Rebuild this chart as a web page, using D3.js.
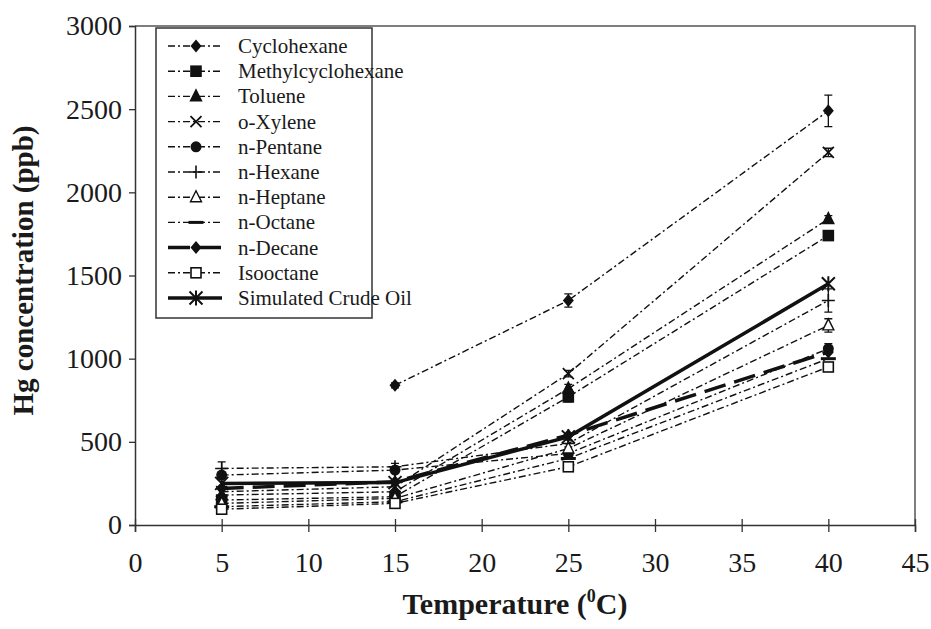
<!DOCTYPE html>
<meta charset="utf-8">
<script src="https://d3js.org/d3.v7.min.js"></script>
<style>
  body { margin: 0; background: #fff; }
  text { font-family: "Liberation Serif", "Times New Roman", serif; fill: #1a1a1a; }
</style>
<div id="chart"></div>
<script>
// temperatures (deg C) measured
var temps = [5, 15, 25, 40];

var seriesNames = ["Cyclohexane", "Methylcyclohexane", "Toluene", "o-Xylene", "n-Pentane",
  "n-Hexane", "n-Heptane", "n-Octane", "n-Decane", "Isooctane", "Simulated Crude Oil"];

// Hg concentration (ppb)
var cyclohexane  = [null, 840, 1350, 2490];
var methylcyclo  = [150, 170, 770, 1740];
var toluene      = [180, 200, 820, 1840];
var oXylene      = [200, 230, 910, 2240];
var nPentane     = [300, 330, 430, 1060];
var nHexane      = [340, 350, 490, 1350];
var nHeptane     = [130, 160, 460, 1200];
var nOctane      = [110, 140, 400, 1000];
var nDecane      = [220, 260, 540, 1040];
var isooctane    = [95, 130, 350, 950];
var crudeOil     = [250, 255, 530, 1450];

// error bars (+/-)
var cyclohexaneErr = [0, 15, 40, 95];
var methylcycloErr = [0, 0, 30, 25];
var tolueneErr     = [0, 0, 25, 20];
var oXyleneErr     = [0, 0, 20, 25];
var nPentaneErr    = [0, 10, 0, 30];
var nHexaneErr     = [40, 20, 20, 70];
var nHeptaneErr    = [0, 0, 0, 40];
var nOctaneErr     = [0, 0, 0, 0];
var nDecaneErr     = [0, 0, 0, 0];
var isooctaneErr   = [20, 0, 0, 20];
var crudeOilErr    = [0, 0, 0, 0];

var xTicks = [0, 5, 10, 15, 20, 25, 30, 35, 40, 45];
var yTicks = [0, 500, 1000, 1500, 2000, 2500, 3000];

var allValues = [cyclohexane, methylcyclo, toluene, oXylene, nPentane, nHexane,
  nHeptane, nOctane, nDecane, isooctane, crudeOil];
var allErrors = [cyclohexaneErr, methylcycloErr, tolueneErr, oXyleneErr, nPentaneErr, nHexaneErr,
  nHeptaneErr, nOctaneErr, nDecaneErr, isooctaneErr, crudeOilErr];

// marker / line style per series
var styles = [
  {marker: "diamond", dash: "7,3,2,3", w: 1.4},
  {marker: "square", dash: "7,3,2,3", w: 1.4},
  {marker: "triangle", dash: "7,3,2,3", w: 1.4},
  {marker: "x", dash: "7,3,2,3", w: 1.4},
  {marker: "circle", dash: "7,3,2,3", w: 1.4},
  {marker: "plus", dash: "7,3,2,3", w: 1.4},
  {marker: "otriangle", dash: "7,3,2,3", w: 1.4},
  {marker: "dash", dash: "7,3,2,3", w: 1.4},
  {marker: "diamond", dash: "22,9", w: 3.5},
  {marker: "osquare", dash: "7,3,2,3", w: 1.4},
  {marker: "asterisk", dash: null, w: 3.5}
];

var serif = '"Liberation Serif", "Times New Roman", serif';

var margin = {top: 26, right: 16, bottom: 104, left: 135},
    width = 931 - margin.left - margin.right,
    height = 629 - margin.top - margin.bottom;

var svg = d3.select("#chart")
  .append("svg")
    .attr("width", 931)
    .attr("height", 629)
  .append("g")
    .attr("transform", "translate(" + margin.left + "," + margin.top + ")");

var x = d3.scaleLinear().domain([0, 45]).range([0, width]);
var y = d3.scaleLinear().domain([0, 3000]).range([height, 0]);

// plot frame (top + right)
svg.append("path")
  .attr("d", "M0,0H" + width + "V" + height)
  .attr("fill", "none")
  .attr("stroke", "#555")
  .attr("stroke-width", 1.5);

// axes
var xAxis = svg.append("g")
  .attr("transform", "translate(0," + height + ")")
  .call(d3.axisBottom(x).tickValues(xTicks).tickSize(7).tickPadding(20));
var yAxis = svg.append("g")
  .call(d3.axisLeft(y).tickValues(yTicks).tickFormat(d3.format("d")).tickSize(6).tickPadding(7));
[xAxis, yAxis].forEach(function(a) {
  a.attr("font-family", serif);
  a.select(".domain").attr("stroke", "#333").attr("stroke-width", 1.5);
  a.selectAll(".tick line").attr("stroke", "#333").attr("stroke-width", 1.3);
  a.selectAll("text")
    .style("font-family", serif)
    .style("font-size", "28px")
    .attr("fill", "#1a1a1a");
});
xAxis.selectAll(".tick line").attr("y1", -6);

// axis titles
svg.append("text")
  .attr("x", width / 2 - 10)
  .attr("y", height + 89)
  .attr("text-anchor", "middle")
  .style("font-size", "30px")
  .style("font-weight", "bold")
  .html('Temperature (<tspan dy="-12" style="font-size:18px">0</tspan><tspan dy="12">C)</tspan>');

svg.append("text")
  .attr("transform", "rotate(-90)")
  .attr("x", -height / 2 + 5)
  .attr("y", -margin.left + 33)
  .attr("text-anchor", "middle")
  .style("font-size", "29px")
  .style("font-weight", "bold")
  .text("Hg concentration (ppb)");

function drawMarker(g, type, cx, cy) {
  var s = 5.5;
  if (type === "diamond") {
    g.append("path").attr("d", "M" + cx + "," + (cy - s - 1) + "L" + (cx + s) + "," + cy + "L" + cx + "," + (cy + s + 1) + "L" + (cx - s) + "," + cy + "Z").attr("fill", "#111");
  } else if (type === "square" || type === "osquare") {
    g.append("rect").attr("x", cx - s + 0.5).attr("y", cy - s + 0.5).attr("width", 2 * s - 1).attr("height", 2 * s - 1)
      .attr("fill", type === "square" ? "#111" : "#fff").attr("stroke", "#111").attr("stroke-width", 1.6);
  } else if (type === "triangle" || type === "otriangle") {
    g.append("path").attr("d", "M" + cx + "," + (cy - s - 1) + "L" + (cx + s) + "," + (cy + s - 1) + "L" + (cx - s) + "," + (cy + s - 1) + "Z")
      .attr("fill", type === "triangle" ? "#111" : "#fff").attr("stroke", "#111").attr("stroke-width", 1.4);
  } else if (type === "circle") {
    g.append("circle").attr("cx", cx).attr("cy", cy).attr("r", s).attr("fill", "#111");
  } else if (type === "x") {
    g.append("path").attr("d", "M" + (cx - s) + "," + (cy - s) + "L" + (cx + s) + "," + (cy + s) + "M" + (cx + s) + "," + (cy - s) + "L" + (cx - s) + "," + (cy + s))
      .attr("stroke", "#111").attr("stroke-width", 1.8);
  } else if (type === "plus") {
    g.append("path").attr("d", "M" + (cx - s - 1) + "," + cy + "H" + (cx + s + 1) + "M" + cx + "," + (cy - s - 1) + "V" + (cy + s + 1))
      .attr("stroke", "#111").attr("stroke-width", 1.6);
  } else if (type === "dash") {
    g.append("path").attr("d", "M" + (cx - s - 2) + "," + cy + "H" + (cx + s + 2))
      .attr("stroke", "#111").attr("stroke-width", 3);
  } else if (type === "asterisk") {
    g.append("path").attr("d", "M" + (cx - s - 1) + "," + (cy - s - 1) + "L" + (cx + s + 1) + "," + (cy + s + 1) + "M" + (cx + s + 1) + "," + (cy - s - 1) + "L" + (cx - s - 1) + "," + (cy + s + 1) + "M" + cx + "," + (cy - s - 2) + "V" + (cy + s + 2))
      .attr("stroke", "#111").attr("stroke-width", 2);
  }
}

var line = d3.line()
  .defined(function(d) { return d.v !== null; })
  .x(function(d) { return x(d.t); })
  .y(function(d) { return y(d.v); });

// draw the series, thin ones first
var order = [0, 1, 2, 3, 4, 5, 6, 7, 9, 8, 10];
order.forEach(function(i) {
  var pts = temps.map(function(t, j) { return {t: t, v: allValues[i][j], e: allErrors[i][j]}; });
  var g = svg.append("g");
  g.append("path")
    .datum(pts)
    .attr("d", line)
    .attr("fill", "none")
    .attr("stroke", "#111")
    .attr("stroke-width", styles[i].w)
    .attr("stroke-dasharray", styles[i].dash);
  pts.filter(function(d) { return d.v !== null; }).forEach(function(d) {
    if (d.e > 0) {
      var cx = x(d.t);
      g.append("path")
        .attr("d", "M" + cx + "," + y(d.v - d.e) + "V" + y(d.v + d.e) +
          "M" + (cx - 4) + "," + y(d.v - d.e) + "H" + (cx + 4) +
          "M" + (cx - 4) + "," + y(d.v + d.e) + "H" + (cx + 4))
        .attr("stroke", "#111").attr("stroke-width", 1.3).attr("fill", "none");
    }
    drawMarker(g, styles[i].marker, x(d.t), y(d.v));
  });
});

// legend
var legend = svg.append("g").attr("transform", "translate(" + (156 - margin.left) + "," + (28 - margin.top) + ")");
legend.append("rect")
  .attr("width", 216).attr("height", 290)
  .attr("fill", "#fff").attr("stroke", "#333").attr("stroke-width", 1.5);
seriesNames.forEach(function(name, i) {
  var ly = 18 + i * 25.2;
  var row = legend.append("g");
  row.append("path")
    .attr("d", "M12," + ly + "H66")
    .attr("stroke", "#111")
    .attr("stroke-width", styles[i].w)
    .attr("stroke-dasharray", styles[i].dash);
  drawMarker(row, styles[i].marker, 40, ly);
  row.append("text")
    .attr("x", 82)
    .attr("y", ly + 7)
    .style("font-size", "21px")
    .text(name);
});
</script>
